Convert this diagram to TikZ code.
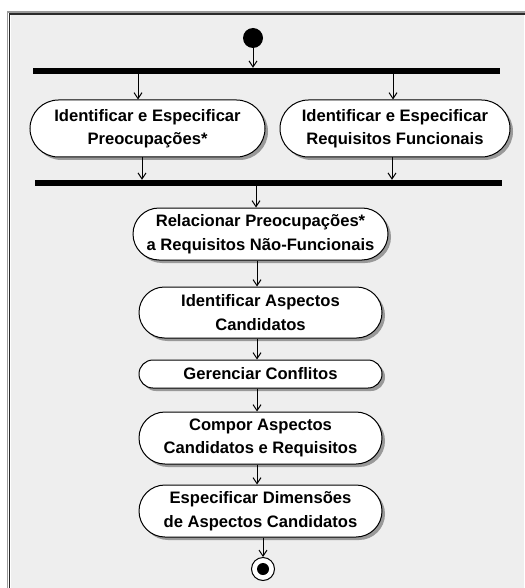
\documentclass[tikz,border=0pt]{standalone}
\usepackage{fontspec}
\setmainfont{Liberation Sans}
\usetikzlibrary{arrows.meta,shadows,shapes.misc}
\definecolor{panel}{HTML}{EEEEEE}
\definecolor{frameout}{HTML}{9A9A9A}
\definecolor{framein}{HTML}{2A2A2A}
\definecolor{shade}{HTML}{999999}
\tikzset{
  activity/.style={draw=black, line width=1pt, fill=white, rounded rectangle,
    align=center, inner sep=0pt, font=\bfseries\fontsize{16.6}{23.5}\selectfont,
    drop shadow={shadow xshift=3pt, shadow yshift=-3pt, fill=shade, opacity=1}},
  syncbar/.style={fill=black, rectangle, inner sep=0pt, minimum height=6pt},
  flow/.style={draw=black, line width=1pt, -{Straight Barb[length=6pt,width=8pt,line width=1pt]}},
}
\begin{document}
\begin{tikzpicture}[x=1pt, y=-1pt]
  % page and framed panel
  \useasboundingbox (0,0) rectangle (524,588);
  \fill[white] (0,0) rectangle (524,588);
  \fill[panel] (11,15) rectangle (524,588);
  \draw[frameout, line width=1.5pt] (7.5,600) -- (7.5,11.8) -- (530,11.8);
  \draw[framein, line width=1.5pt] (9.3,600) -- (9.3,13.8) -- (530,13.8);

  % initial and final states
  \node[circle, fill=black, minimum size=20pt, inner sep=0pt] (start) at (253,38) {};
  \node[circle, draw=black, line width=1pt, fill=white, minimum size=23pt, inner sep=0pt] (stop) at (263,569) {};
  \fill[black] (stop.center) circle (6pt);

  % fork and join bars
  \node[syncbar, minimum width=467pt] (fork) at (266.5,71) {};
  \node[syncbar, minimum width=467pt] (join) at (268.5,183) {};

  % activities
  \node[activity, minimum width=235pt, minimum height=57pt] (a1) at (147.5,128.5)
    {Identificar e Especificar\\Preocupações*};
  \node[activity, minimum width=230pt, minimum height=57pt] (a2) at (395,128.5)
    {Identificar e Especificar\\Requisitos Funcionais};
  \node[activity, minimum width=255pt, minimum height=52pt] (a3) at (260.5,234)
    {Relacionar Preocupações*\\a Requisitos Não-Funcionais};
  \node[activity, minimum width=243pt, minimum height=51pt] (a4) at (260.5,312.5)
    {Identificar Aspectos\\Candidatos};
  \node[activity, minimum width=243pt, minimum height=28pt] (a5) at (260.5,374)
    {Gerenciar Conflitos};
  \node[activity, minimum width=243pt, minimum height=52pt] (a6) at (260.5,438)
    {Compor Aspectos\\Candidatos e Requisitos};
  \node[activity, minimum width=243pt, minimum height=52pt] (a7) at (260.5,511)
    {Especificar Dimensões\\de Aspectos Candidatos};

  % connector columns
  \coordinate (c1) at (138,0);
  \coordinate (c2) at (393,0);
  \coordinate (c3) at (142,0);
  \coordinate (c4) at (392,0);
  \coordinate (c5) at (256,0);
  \coordinate (c6) at (257,0);

  % transitions
  \draw[flow] (start.south) -- (fork.north -| start);
  \draw[flow] (fork.south -| c1) -- (a1.north -| c1);
  \draw[flow] (fork.south -| c2) -- (a2.north -| c2);
  \draw[flow] (a1.south -| c3) -- (join.north -| c3);
  \draw[flow] (a2.south -| c4) -- (join.north -| c4);
  \draw[flow] (join.south -| c5) -- (a3.north -| c5);
  \draw[flow] (a3.south -| c6) -- (a4.north -| c6);
  \draw[flow] (a4.south -| c6) -- (a5.north -| c6);
  \draw[flow] (a5.south -| c6) -- (a6.north -| c6);
  \draw[flow] (a6.south -| c6) -- (a7.north -| c6);
  \draw[flow] (a7.south -| stop) -- (stop.north);
\end{tikzpicture}
\end{document}
